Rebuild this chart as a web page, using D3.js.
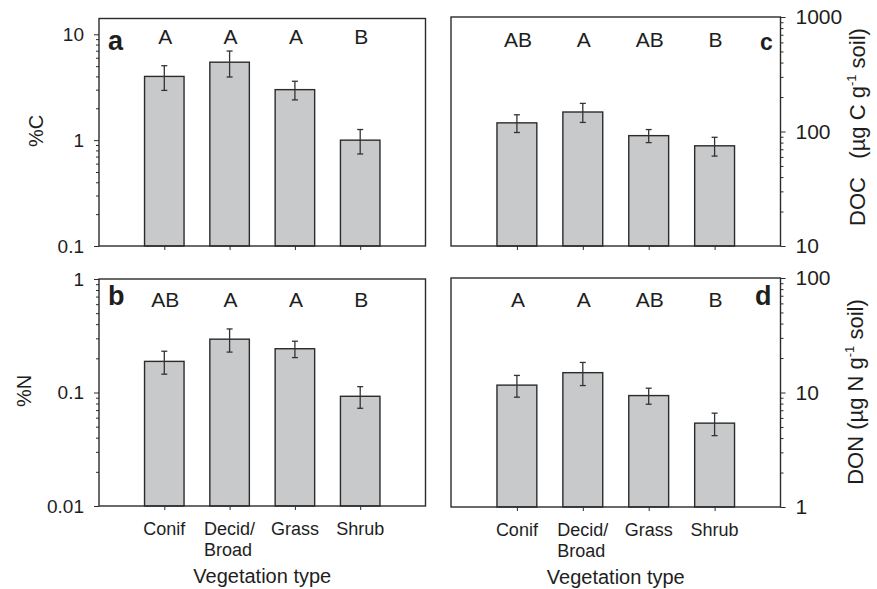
<!DOCTYPE html>
<html>
<head>
<meta charset="utf-8">
<script src="https://cdn.jsdelivr.net/npm/d3@7"></script>
<style>
  body { margin: 0; background: #fff; }
  svg { display: block; }
  text { font-family: "Liberation Sans", Arial, Helvetica, sans-serif; fill: #1e1e1e; }
</style>
</head>
<body>
<svg id="chart" width="877" height="589"></svg>
<script>
// Vegetation categories (second line of a label after "\n")
const categories = ["Conif", "Decid/\nBroad", "Grass", "Shrub"];

// Soil total carbon, % (mean and standard error)
const carbonPct = [4.0, 5.45, 3.0, 1.0];
const carbonPctSE = [1.05, 1.5, 0.6, 0.26];
const carbonLetters = ["A", "A", "A", "B"];

// Soil total nitrogen, %
const nitrogenPct = [0.188, 0.295, 0.243, 0.0926];
const nitrogenPctSE = [0.043, 0.068, 0.04, 0.02];
const nitrogenLetters = ["AB", "A", "A", "B"];

// Dissolved organic carbon, µg C per g soil
const docValues = [119, 148, 92, 75];
const docSE = [21, 28, 12, 14];
const docLetters = ["AB", "A", "AB", "B"];

// Dissolved organic nitrogen, µg N per g soil
const donValues = [11.6, 14.9, 9.4, 5.4];
const donSE = [2.5, 3.4, 1.5, 1.2];
const donLetters = ["A", "A", "AB", "B"];

// Tick labels of the log axes
const carbonTicks = [0.1, 1, 10];
const nitrogenTicks = [0.01, 0.1, 1];
const docTicks = [10, 100, 1000];
const donTicks = [1, 10, 100];

const svg = d3.select("#chart");
const ink = "#2b2b2b";

const panels = [
  { id: "a", values: carbonPct, se: carbonPctSE, letters: carbonLetters, ticks: carbonTicks,
    box: { l: 99, r: 425.5, t: 18.5, b: 246 }, top: 14.1, side: "left",
    title: "%C", titleX: 43, titleY: 131, letterY: 43.5, tag: { x: 108, y: 50, size: 27 },
    xLabels: false },
  { id: "b", values: nitrogenPct, se: nitrogenPctSE, letters: nitrogenLetters, ticks: nitrogenTicks,
    box: { l: 99, r: 425.5, t: 279, b: 506 }, top: 1, side: "left",
    title: "%N", titleX: 30.5, titleY: 391, letterY: 307, tag: { x: 108, y: 305, size: 27 },
    xLabels: true },
  { id: "c", values: docValues, se: docSE, letters: docLetters, ticks: docTicks,
    box: { l: 451, r: 780.5, t: 17, b: 246 }, top: 1000, side: "right",
    title: ["DOC   (\u00b5g C g", "-1", " soil)"], titleX: 865, titleY: 127,
    letterY: 47.3, tag: { x: 760, y: 50, size: 23 }, xLabels: false },
  { id: "d", values: donValues, se: donSE, letters: donLetters, ticks: donTicks,
    box: { l: 451, r: 780.5, t: 278, b: 507 }, top: 100, side: "right",
    title: ["DON (\u00b5g N g", "-1", " soil)"], titleX: 863, titleY: 392,
    letterY: 307, tag: { x: 755, y: 305, size: 27 }, xLabels: true }
];

panels.forEach(p => {
  const { l, r, t, b } = p.box;
  const x = d3.scaleLinear().domain([0, 5]).range([l, r]);
  const y = d3.scaleLog().domain([p.ticks[0], p.top]).range([b, t]);
  const step = x(1) - x(0);
  const barW = step * 0.605;
  const g = svg.append("g").attr("class", "panel-" + p.id);

  // minor ticks at 2..9 of each decade
  const minors = [];
  for (let i = 0; i < p.ticks.length - 1; i++) {
    for (let k = 2; k <= 9; k++) minors.push(p.ticks[i] * k);
  }

  const axisX = p.side === "left" ? l : r;
  const mk = p.side === "left" ? d3.axisLeft : d3.axisRight;
  const fs = p.side === "left" ? 19 : 21;

  g.append("g").attr("transform", `translate(${axisX},0)`)
    .call(mk(y).tickValues(minors).tickSize(3).tickFormat(""))
    .call(s => s.select(".domain").remove())
    .call(s => s.selectAll("line").attr("stroke", ink));

  g.append("g").attr("transform", `translate(${axisX},0)`)
    .call(mk(y).tickValues(p.ticks).tickSize(5).tickPadding(10).tickFormat(d3.format("~g")))
    .call(s => s.select(".domain").remove())
    .call(s => s.selectAll("line").attr("stroke", ink))
    .call(s => s.selectAll("text").attr("font-size", fs).attr("fill", "#1e1e1e")
      .attr("font-family", '"Liberation Sans", Arial, sans-serif'));

  // category ticks under the bars
  g.append("g").attr("transform", `translate(0,${b})`)
    .call(d3.axisBottom(x).tickValues([1, 2, 3, 4]).tickSize(4).tickFormat(""))
    .call(s => s.select(".domain").remove())
    .call(s => s.selectAll("line").attr("stroke", ink));

  // bars
  g.selectAll("rect.bar").data(p.values).join("rect")
    .attr("class", "bar")
    .attr("x", (d, i) => x(i + 1) - barW / 2)
    .attr("width", barW)
    .attr("y", d => y(d))
    .attr("height", d => b - y(d))
    .attr("fill", "#c8c9ca")
    .attr("stroke", ink)
    .attr("stroke-width", 1.4);

  // error bars
  const cap = 3;
  const eb = g.selectAll("g.err").data(p.values).join("g").attr("class", "err")
    .attr("stroke", "#333").attr("stroke-width", 1.3);
  eb.append("line")
    .attr("x1", (d, i) => x(i + 1)).attr("x2", (d, i) => x(i + 1))
    .attr("y1", (d, i) => y(d + p.se[i])).attr("y2", (d, i) => y(d - p.se[i]));
  eb.append("line")
    .attr("x1", (d, i) => x(i + 1) - cap).attr("x2", (d, i) => x(i + 1) + cap)
    .attr("y1", (d, i) => y(d + p.se[i])).attr("y2", (d, i) => y(d + p.se[i]));
  eb.append("line")
    .attr("x1", (d, i) => x(i + 1) - cap).attr("x2", (d, i) => x(i + 1) + cap)
    .attr("y1", (d, i) => y(d - p.se[i])).attr("y2", (d, i) => y(d - p.se[i]));

  // frame
  g.append("rect")
    .attr("x", l).attr("y", t).attr("width", r - l).attr("height", b - t)
    .attr("fill", "none").attr("stroke", ink).attr("stroke-width", 1.4);

  // significance letters
  g.selectAll("text.sig").data(p.letters).join("text")
    .attr("class", "sig")
    .attr("x", (d, i) => x(i + 1) + 1)
    .attr("y", p.letterY)
    .attr("text-anchor", "middle")
    .attr("font-size", 21)
    .text(d => d);

  // panel tag
  g.append("text")
    .attr("x", p.tag.x).attr("y", p.tag.y)
    .attr("font-size", p.tag.size).attr("font-weight", "bold")
    .attr("fill", "#111")
    .text(p.id);

  // y title
  const tt = g.append("text")
    .attr("transform", `translate(${p.titleX},${p.titleY}) rotate(-90)`)
    .attr("text-anchor", "middle")
    .style("white-space", "pre");
  if (typeof p.title === "string") {
    tt.attr("font-size", 20).text(p.title);
  } else {
    tt.attr("font-size", 22);
    tt.append("tspan").text(p.title[0]);
    tt.append("tspan").attr("font-size", 13).attr("dy", -9).text(p.title[1]);
    tt.append("tspan").attr("dy", 9).text(p.title[2]);
  }

  // category labels and x title
  if (p.xLabels) {
    categories.forEach((c, i) => {
      const lines = c.split("\n");
      const first = g.append("text")
        .attr("x", x(i + 1)).attr("y", b + 29)
        .attr("text-anchor", "middle").attr("font-size", 18)
        .text(lines[0]);
      if (lines.length > 1) {
        const w = first.node().getComputedTextLength();
        g.append("text")
          .attr("x", x(i + 1) - w / 2).attr("y", b + 50)
          .attr("font-size", 18)
          .text(lines[1]);
      }
    });
    g.append("text")
      .attr("x", (l + r) / 2).attr("y", b + 77)
      .attr("text-anchor", "middle").attr("font-size", 20)
      .text("Vegetation type");
  }
});
</script>
</body>
</html>
